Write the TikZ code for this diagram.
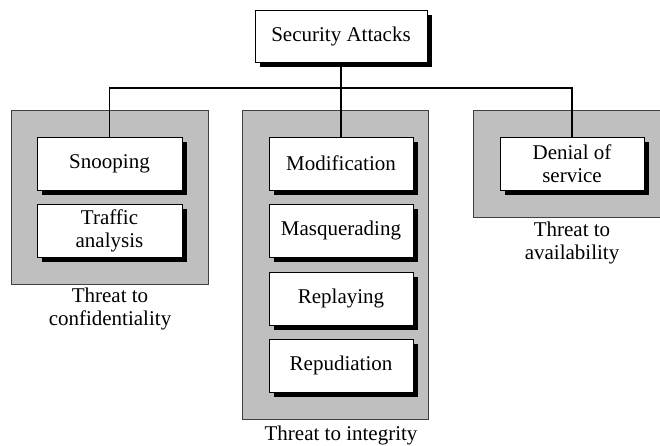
\documentclass[tikz,border=0pt]{standalone}
\usepackage{fontspec}
\setmainfont{Liberation Serif}
\usetikzlibrary{shadows}
\begin{document}
\begin{tikzpicture}[x=1pt,y=-1pt,
  every node/.style={font=\fontsize{21}{23}\selectfont, text=black, align=center, inner sep=0pt},
  attack/.style={draw=black, line width=1pt, fill=white,
    drop shadow={shadow xshift=5pt, shadow yshift=-5pt, fill=black, opacity=1}},
  group/.style={draw=black!75, line width=0.9pt, fill=black!25},
  conn/.style={draw=black, line width=1.8pt}]
\useasboundingbox (0,0) rectangle (660,445);
% groups
\path[group] (11,110) rectangle (208,284);
\path[group] (242,110) rectangle (428,419);
\path[group] (473,110) rectangle (668,217);
% top
\node[attack, minimum width=172pt, minimum height=52pt] (top) at (341,36) {Security Attacks};
% left
\node[attack, minimum width=145pt, minimum height=53pt] (snoop) at (109.5,163.5) {Snooping};
\node[attack, minimum width=145pt, minimum height=53pt] (traffic) at (109.5,230.5) {Traffic\\analysis};
% middle
\node[attack, minimum width=144pt, minimum height=53pt] (mod) at (341,163.5) {Modification};
\node[attack, minimum width=144pt, minimum height=53pt] (masq) at (341,230.5) {Masquerading};
\node[attack, minimum width=144pt, minimum height=53pt] (replay) at (341,298.5) {Replaying};
\node[attack, minimum width=144pt, minimum height=53pt] (repud) at (341,365.5) {Repudiation};
% right
\node[attack, minimum width=144pt, minimum height=53pt] (den) at (572,163.5) {Denial of\\service};
% labels
\node (lconf) at (110,309) {Threat to\\confidentiality};
\node (linteg) at (341,435) {Threat to integrity};
\node (lavail) at (572,243) {Threat to\\availability};
% connectors
\coordinate (hl) at (0,88);
\draw[conn] (top.south) -- (mod.north);
\draw[conn] (snoop.north) -- (snoop.north |- hl) -- (den.north |- hl) -- (den.north);
\end{tikzpicture}
\end{document}
